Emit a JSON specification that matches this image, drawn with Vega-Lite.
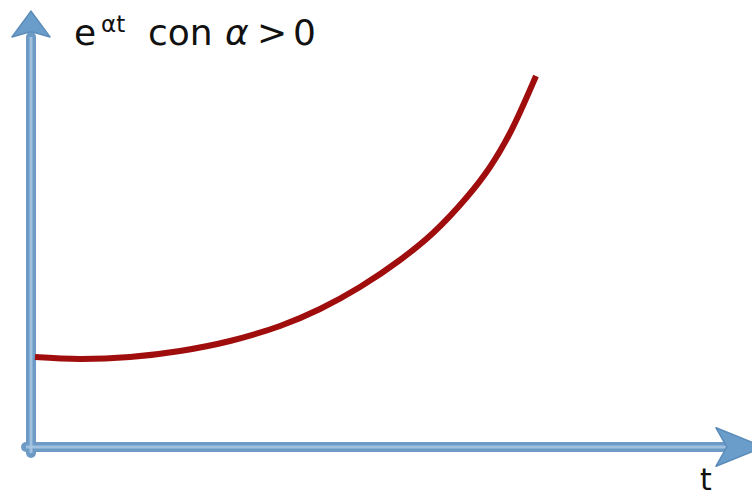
{
  "$schema": "https://vega.github.io/schema/vega-lite/v6.json",
  "width": 752,
  "height": 498,
  "padding": 0,
  "autosize": {"type": "none"},
  "config": {"view": {"stroke": null}},
  "datasets": {
    "axes": [
      {"x": 0, "y": -0.12, "x2": 0, "y2": 8.2},
      {"x": -0.1, "y": 0, "x2": 13.9, "y2": 0}
    ],
    "curve": [
      {"x": 0.08, "y": 1.80},
      {"x": 0.98, "y": 1.76},
      {"x": 1.98, "y": 1.80},
      {"x": 2.98, "y": 1.92},
      {"x": 3.98, "y": 2.12},
      {"x": 4.98, "y": 2.42},
      {"x": 5.78, "y": 2.76},
      {"x": 6.58, "y": 3.20},
      {"x": 7.38, "y": 3.74},
      {"x": 8.04, "y": 4.28},
      {"x": 8.72, "y": 5.00},
      {"x": 9.18, "y": 5.60},
      {"x": 9.58, "y": 6.28},
      {"x": 10.10, "y": 7.42}
    ],
    "arrowY": [{"x": 0, "y": 8.46}],
    "arrowX": [{"x": 14.18, "y": 0}],
    "bigText": [
      {"x": 0.86, "y": 8.04, "label": "e"},
      {"x": 2.34, "y": 8.04, "label": "con"},
      {"x": 4.52, "y": 8.04, "label": ">"},
      {"x": 5.24, "y": 8.04, "label": "0"}
    ],
    "supText": [
      {"x": 1.40, "y": 8.30, "label": "αt"}
    ],
    "italicText": [
      {"x": 3.88, "y": 8.04, "label": "α"}
    ],
    "axisLabel": [
      {"x": 13.38, "y": -0.86, "label": "t"}
    ]
  },
  "encoding": {
    "x": {"field": "x", "type": "quantitative", "axis": null, "scale": {"domain": [-0.62, 14.42], "nice": false, "zero": false}},
    "y": {"field": "y", "type": "quantitative", "axis": null, "scale": {"domain": [-1.02, 8.94], "nice": false, "zero": false}}
  },
  "layer": [
    {
      "data": {"name": "axes"},
      "mark": {"type": "rule", "color": "#6d9bc5", "strokeWidth": 10, "strokeCap": "round"},
      "encoding": {"x2": {"field": "x2"}, "y2": {"field": "y2"}}
    },
    {
      "data": {"name": "axes"},
      "mark": {"type": "rule", "color": "#a9c8e3", "strokeWidth": 3, "opacity": 0.85},
      "encoding": {"x2": {"field": "x2"}, "y2": {"field": "y2"}}
    },
    {
      "data": {"name": "curve"},
      "mark": {"type": "line", "color": "#a00d0d", "strokeWidth": 6, "interpolate": "catmull-rom", "strokeCap": "butt"},
      "encoding": {}
    },
    {
      "data": {"name": "arrowY"},
      "mark": {"type": "point", "shape": "M0,-0.68 L1,0.68 L0,0.4 L-1,0.68 Z", "size": 1444, "filled": true, "fill": "#6b9dcb", "stroke": "#5a8bb8", "strokeWidth": 1.5, "strokeJoin": "round", "opacity": 1},
      "encoding": {}
    },
    {
      "data": {"name": "arrowX"},
      "mark": {"type": "point", "shape": "M1,0 L-1,0.8 L-0.55,0 L-1,-0.8 Z", "size": 2304, "filled": true, "fill": "#6b9dcb", "stroke": "#5a8bb8", "strokeWidth": 1.5, "strokeJoin": "round", "opacity": 1},
      "encoding": {}
    },
    {
      "data": {"name": "bigText"},
      "mark": {"type": "text", "font": "DejaVu Sans", "fontSize": 36, "align": "left", "baseline": "alphabetic", "color": "#111111"},
      "encoding": {"text": {"field": "label"}}
    },
    {
      "data": {"name": "supText"},
      "mark": {"type": "text", "font": "DejaVu Sans", "fontSize": 23, "align": "left", "baseline": "alphabetic", "color": "#111111", "letterSpacing": 4},
      "encoding": {"text": {"field": "label"}}
    },
    {
      "data": {"name": "italicText"},
      "mark": {"type": "text", "font": "DejaVu Sans", "fontStyle": "italic", "fontSize": 36, "align": "left", "baseline": "alphabetic", "color": "#111111"},
      "encoding": {"text": {"field": "label"}}
    },
    {
      "data": {"name": "axisLabel"},
      "mark": {"type": "text", "font": "DejaVu Sans", "fontSize": 30, "align": "left", "baseline": "alphabetic", "color": "#111111"},
      "encoding": {"text": {"field": "label"}}
    }
  ]
}
